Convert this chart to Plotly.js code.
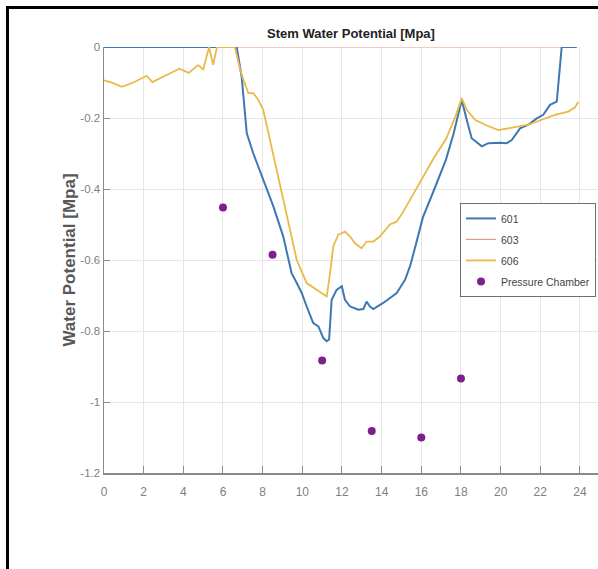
<!DOCTYPE html>
<html>
<head>
<meta charset="utf-8">
<script src="https://cdn.plot.ly/plotly-3.0.1.min.js"></script>
<style>
  html, body { margin: 0; padding: 0; background: #fff; }
  #wrap { position: relative; width: 598px; height: 569px; overflow: hidden; }
  #chart { position: absolute; left: 0; top: 0; width: 598px; height: 569px; }
  #frame { position: absolute; left: 6px; top: 6px; width: 620px; height: 600px;
           border-left: 3px solid #000; border-top: 3px solid #000; pointer-events: none; }
</style>
</head>
<body>
<div id="wrap">
  <div id="chart"></div>
  <div id="frame"></div>
</div>
<script>
// ---- data ----
const titleText = "Stem Water Potential [Mpa]";
const yTitle = "Water Potential [Mpa]";
const seriesNames = ["601", "603", "606", "Pressure Chamber"];

const x601 = [0, 6.69, 6.94, 7.2, 7.53, 8.03, 8.54, 9.04, 9.46, 9.72, 9.97, 10.22, 10.55, 10.81, 11.06, 11.23, 11.35, 11.48, 11.73, 11.99, 12.15, 12.41, 12.83, 13.08, 13.24, 13.41, 13.58, 14.08, 14.76, 15.18, 15.43, 15.7, 16.08, 16.66, 17.24, 17.62, 18.04, 18.29, 18.54, 19.05, 19.38, 19.97, 20.31, 20.56, 20.98, 21.4, 21.82, 22.15, 22.49, 22.83, 23.08, 23.84];
const y601 = [0, 0, -0.083, -0.243, -0.30, -0.374, -0.449, -0.534, -0.637, -0.665, -0.693, -0.731, -0.778, -0.787, -0.82, -0.829, -0.824, -0.712, -0.684, -0.674, -0.712, -0.731, -0.74, -0.738, -0.717, -0.731, -0.738, -0.721, -0.693, -0.656, -0.618, -0.562, -0.48, -0.40, -0.318, -0.246, -0.149, -0.205, -0.257, -0.28, -0.271, -0.27, -0.271, -0.262, -0.229, -0.219, -0.201, -0.191, -0.163, -0.154, 0, 0];

const x603 = [0, 23.84];
const y603 = [0, 0];

const x606 = [0, 0.33, 0.9, 1.48, 2.15, 2.44, 3.0, 3.8, 4.27, 4.75, 5.0, 5.3, 5.5, 5.7, 6.6, 6.85, 7.03, 7.28, 7.53, 7.78, 8.03, 8.37, 8.71, 9.04, 9.38, 9.72, 10.22, 10.72, 11.23, 11.4, 11.56, 11.81, 12.15, 12.41, 12.66, 12.99, 13.24, 13.58, 13.91, 14.42, 14.76, 15.1, 15.43, 16.08, 16.66, 17.24, 17.72, 18.04, 18.29, 18.71, 19.21, 19.88, 20.39, 20.9, 21.4, 22.07, 22.74, 23.41, 23.75, 23.92];
const y606 = [-0.094, -0.099, -0.112, -0.10, -0.081, -0.099, -0.083, -0.061, -0.073, -0.051, -0.063, 0, -0.05, 0, 0, -0.06, -0.093, -0.13, -0.13, -0.149, -0.177, -0.262, -0.355, -0.43, -0.524, -0.6, -0.665, -0.684, -0.703, -0.637, -0.562, -0.529, -0.52, -0.534, -0.553, -0.567, -0.548, -0.548, -0.534, -0.5, -0.492, -0.463, -0.43, -0.369, -0.31, -0.26, -0.196, -0.144, -0.177, -0.205, -0.219, -0.234, -0.229, -0.224, -0.219, -0.205, -0.191, -0.182, -0.17, -0.154];

const xPC = [6, 8.5, 11, 13.5, 16, 18];
const yPC = [-0.452, -0.585, -0.883, -1.082, -1.10, -0.934];

const xTicks = [0, 2, 4, 6, 8, 10, 12, 14, 16, 18, 20, 22, 24];
const yTicks = [-1.2, -1, -0.8, -0.6, -0.4, -0.2, 0];
const yTickText = ["-1.2", "-1", "-0.8", "-0.6", "-0.4", "-0.2", "0"];

// ---- chart ----
const SANS = "Liberation Sans, Arial, sans-serif";

const traces = [
  { x: x603, y: y603, name: seriesNames[1], type: "scatter", mode: "lines",
    line: { color: "#E39A80", width: 1.2 }, legendrank: 2, legendgroup: "g603" },
  { x: x601, y: y601, name: seriesNames[0], type: "scatter", mode: "lines",
    line: { color: "#3E78B2", width: 2 }, legendrank: 1, legendgroup: "g601" },
  { x: x606, y: y606, name: seriesNames[2], type: "scatter", mode: "lines",
    line: { color: "#E9B949", width: 1.8 }, legendrank: 3, legendgroup: "g606" },
  { x: xPC, y: yPC, name: seriesNames[3], type: "scatter", mode: "markers",
    marker: { color: "#7E1F8E", size: 8 }, legendrank: 4, legendgroup: "gpc" }
];

const layout = {
  width: 598, height: 569,
  paper_bgcolor: "#ffffff", plot_bgcolor: "#ffffff",
  margin: { l: 104, r: 0, t: 47, b: 95.5, autoexpand: false },
  showlegend: true,
  title: {
    text: "<b>" + titleText + "</b>",
    font: { family: SANS, size: 13, color: "#222" },
    x: 0.5, xref: "paper", xanchor: "center",
    y: 1 - 33 / 569, yref: "container", yanchor: "middle"
  },
  xaxis: {
    range: [0, 24.91], tickvals: xTicks, ticktext: xTicks.map(String),
    showgrid: true, gridcolor: "#e6e6e6", gridwidth: 1,
    zeroline: false, showline: true, linecolor: "#8a8a8a", linewidth: 1.5,
    ticks: "inside", ticklen: 7, tickcolor: "#8a8a8a", tickwidth: 1,
    ticklabelstandoff: 7,
    tickfont: { family: SANS, size: 12, color: "#808080" },
    fixedrange: true
  },
  yaxis: {
    range: [-1.2, 0], tickvals: yTicks, ticktext: yTickText,
    showgrid: true, gridcolor: "#e6e6e6", gridwidth: 1,
    zeroline: false, showline: true, linecolor: "#8a8a8a", linewidth: 1.5,
    ticks: "inside", ticklen: 6, tickcolor: "#8a8a8a", tickwidth: 1,
    tickfont: { family: SANS, size: 11.5, color: "#808080" },
    title: { text: "<b>" + yTitle + "</b>", standoff: 0,
             font: { family: SANS, size: 17, color: "#585858" } },
    automargin: false, fixedrange: true
  },
  legend: {
    x: 0.996, y: 0.634, xanchor: "right", yanchor: "top",
    xref: "paper", yref: "paper",
    bgcolor: "#ffffff", bordercolor: "#6f6f6f", borderwidth: 1,
    font: { family: SANS, size: 10.5, color: "#444" },
    itemwidth: 30, traceorder: "grouped", tracegroupgap: 2
  }
};

Plotly.newPlot("chart", traces, layout, { displayModeBar: false, staticPlot: true });
</script>
</body>
</html>
